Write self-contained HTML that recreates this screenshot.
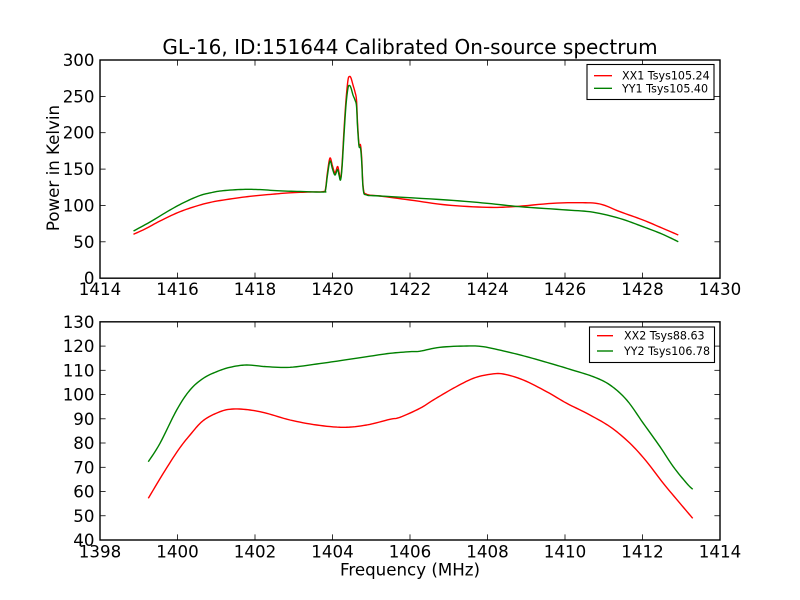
<!DOCTYPE html>
<html>
<head>
<meta charset="utf-8">
<style>
  html, body { margin: 0; padding: 0; background: #ffffff; }
  svg { display: block; }
  text { font-family: "DejaVu Sans", "Liberation Sans", sans-serif; fill: #000; }
</style>
</head>
<body>
<svg width="800" height="600" viewBox="0 0 800 600" xmlns="http://www.w3.org/2000/svg">
  <rect x="0" y="0" width="800" height="600" fill="#ffffff"/>

  <text x="410" y="54" font-size="20" text-anchor="middle">GL-16, ID:151644 Calibrated On-source spectrum</text>

  <!-- ============ TOP AXES ============ -->
  <g>
    <polyline class="smooth" fill="none" stroke="#ff0000" stroke-width="1.4" stroke-linejoin="round"
      points="133.5,234.3 145,229 160,221 178,212.5 195,206.5 212,202 235,198.3 255,195.8 275,194 290,192.8 310,192 323.5,191.6 325.5,189 327.5,172 330,158 332.5,166 335,173 337.5,166.5 339,172 340.5,179 342,165 344,130 346,100 348,80 349.5,76.5 351,78 353,85 355,92 356.5,100 357.5,122 359,144 360.5,145 361.7,158 363.3,188 366.7,194.3 380,196 410,200 447,205 487,207.3 513,206.7 553,203.3 580,202.7 600,204 620,211.7 643,220 662,228 678.3,235"/>
    <polyline class="smooth" fill="none" stroke="#008000" stroke-width="1.4" stroke-linejoin="round"
      points="133.5,231 150,222 170,210 185,202 200,195.5 212,192.5 223,190.7 243,189.4 260,189.6 277,190.7 300,191.5 323.5,192 325.5,190 327.5,175 330,161 332.5,169 335,175 337.5,169.5 339,175 340.5,180 342,168 344,135 346,105 348,88 349.5,85.5 351,88 353,95 355,100 356.5,106 357.5,126 359,146 360.5,148 361.7,162 363.3,190 366.7,195 380,196 447,200 487,203.3 520,206.7 567,210 593,212.2 620,218.5 643,226.7 662,234 678.3,241.7"/>

    <rect x="100" y="60" width="620" height="218.18" fill="none" stroke="#000" stroke-width="1.4"/>

    <g stroke="#000" stroke-width="0.8">
      <line x1="177.5" y1="278.18" x2="177.5" y2="272.6"/><line x1="177.5" y1="60" x2="177.5" y2="65.6"/>
      <line x1="255" y1="278.18" x2="255" y2="272.6"/><line x1="255" y1="60" x2="255" y2="65.6"/>
      <line x1="332.5" y1="278.18" x2="332.5" y2="272.6"/><line x1="332.5" y1="60" x2="332.5" y2="65.6"/>
      <line x1="410" y1="278.18" x2="410" y2="272.6"/><line x1="410" y1="60" x2="410" y2="65.6"/>
      <line x1="487.5" y1="278.18" x2="487.5" y2="272.6"/><line x1="487.5" y1="60" x2="487.5" y2="65.6"/>
      <line x1="565" y1="278.18" x2="565" y2="272.6"/><line x1="565" y1="60" x2="565" y2="65.6"/>
      <line x1="642.5" y1="278.18" x2="642.5" y2="272.6"/><line x1="642.5" y1="60" x2="642.5" y2="65.6"/>
      <line x1="100" y1="241.8" x2="105.6" y2="241.8"/><line x1="720" y1="241.8" x2="714.4" y2="241.8"/>
      <line x1="100" y1="205.45" x2="105.6" y2="205.45"/><line x1="720" y1="205.45" x2="714.4" y2="205.45"/>
      <line x1="100" y1="169.1" x2="105.6" y2="169.1"/><line x1="720" y1="169.1" x2="714.4" y2="169.1"/>
      <line x1="100" y1="132.7" x2="105.6" y2="132.7"/><line x1="720" y1="132.7" x2="714.4" y2="132.7"/>
      <line x1="100" y1="96.4" x2="105.6" y2="96.4"/><line x1="720" y1="96.4" x2="714.4" y2="96.4"/>
    </g>

    <g font-size="16.67" text-anchor="middle">
      <text x="100" y="295">1414</text>
      <text x="177.5" y="295">1416</text>
      <text x="255" y="295">1418</text>
      <text x="332.5" y="295">1420</text>
      <text x="410" y="295">1422</text>
      <text x="487.5" y="295">1424</text>
      <text x="565" y="295">1426</text>
      <text x="642.5" y="295">1428</text>
      <text x="720" y="295">1430</text>
    </g>
    <g font-size="16.67" text-anchor="end">
      <text x="94.5" y="284.2">0</text>
      <text x="94.5" y="247.8">50</text>
      <text x="94.5" y="211.5">100</text>
      <text x="94.5" y="175.1">150</text>
      <text x="94.5" y="138.7">200</text>
      <text x="94.5" y="102.4">250</text>
      <text x="94.5" y="66">300</text>
    </g>

    <text x="0" y="0" font-size="16.67" text-anchor="middle" transform="translate(59,168) rotate(-90)">Power in Kelvin</text>

    <rect x="587" y="64.5" width="127" height="35" fill="#ffffff" stroke="#000" stroke-width="1.1"/>
    <line x1="594" y1="75.7" x2="612" y2="75.7" stroke="#ff0000" stroke-width="1.4"/>
    <line x1="594" y1="88.3" x2="612" y2="88.3" stroke="#008000" stroke-width="1.4"/>
    <text x="622" y="79.7" font-size="11.1">XX1 Tsys105.24</text>
    <text x="622" y="92.3" font-size="11.1">YY1 Tsys105.40</text>
  </g>

  <!-- ============ BOTTOM AXES ============ -->
  <g>
    <polyline class="smooth" fill="none" stroke="#ff0000" stroke-width="1.4" stroke-linejoin="round"
      points="148.3,498.3 163.3,473.3 178.3,450 190,435 203.3,420.5 220,411.7 233.3,409 250,410 266.7,413.3 290,420 316.7,425 343.3,427.3 366.7,425 390,419.3 400,417.3 420,408.3 433.3,400 453.3,388.3 473.3,378.3 490,374.3 503.3,374 523.3,380 546.7,391.7 566.7,403.3 586.7,413.3 610,426.7 630,443.3 646.7,461.7 663.3,483.3 680,503.3 692.7,518.3"/>
    <polyline class="smooth" fill="none" stroke="#008000" stroke-width="1.4" stroke-linejoin="round"
      points="148.3,461.7 160,443.3 176.7,410 190,390 203.3,378.3 216.7,371.7 230,367.3 246.7,365 266.7,366.7 290,367.3 316.7,364 340,360.7 366.7,356.7 390,353.3 410,351.7 420,351.2 440,347.3 466.7,346 483.3,346.7 506.7,351.7 526.7,356.7 550,363.3 570,369.3 593.3,376.7 610,385 626.7,400 643.3,423.3 660,446.7 673.3,466.7 686.7,483.3 692.7,489.3"/>

    <rect x="100" y="321.82" width="620" height="218.18" fill="none" stroke="#000" stroke-width="1.4"/>

    <g stroke="#000" stroke-width="0.8">
      <line x1="177.5" y1="540" x2="177.5" y2="534.4"/><line x1="177.5" y1="321.82" x2="177.5" y2="327.4"/>
      <line x1="255" y1="540" x2="255" y2="534.4"/><line x1="255" y1="321.82" x2="255" y2="327.4"/>
      <line x1="332.5" y1="540" x2="332.5" y2="534.4"/><line x1="332.5" y1="321.82" x2="332.5" y2="327.4"/>
      <line x1="410" y1="540" x2="410" y2="534.4"/><line x1="410" y1="321.82" x2="410" y2="327.4"/>
      <line x1="487.5" y1="540" x2="487.5" y2="534.4"/><line x1="487.5" y1="321.82" x2="487.5" y2="327.4"/>
      <line x1="565" y1="540" x2="565" y2="534.4"/><line x1="565" y1="321.82" x2="565" y2="327.4"/>
      <line x1="642.5" y1="540" x2="642.5" y2="534.4"/><line x1="642.5" y1="321.82" x2="642.5" y2="327.4"/>
      <line x1="100" y1="515.76" x2="105.6" y2="515.76"/><line x1="720" y1="515.76" x2="714.4" y2="515.76"/>
      <line x1="100" y1="491.5" x2="105.6" y2="491.5"/><line x1="720" y1="491.5" x2="714.4" y2="491.5"/>
      <line x1="100" y1="467.3" x2="105.6" y2="467.3"/><line x1="720" y1="467.3" x2="714.4" y2="467.3"/>
      <line x1="100" y1="443" x2="105.6" y2="443"/><line x1="720" y1="443" x2="714.4" y2="443"/>
      <line x1="100" y1="418.8" x2="105.6" y2="418.8"/><line x1="720" y1="418.8" x2="714.4" y2="418.8"/>
      <line x1="100" y1="394.5" x2="105.6" y2="394.5"/><line x1="720" y1="394.5" x2="714.4" y2="394.5"/>
      <line x1="100" y1="370.3" x2="105.6" y2="370.3"/><line x1="720" y1="370.3" x2="714.4" y2="370.3"/>
      <line x1="100" y1="346.1" x2="105.6" y2="346.1"/><line x1="720" y1="346.1" x2="714.4" y2="346.1"/>
    </g>

    <g font-size="16.67" text-anchor="middle">
      <text x="100" y="557.5">1398</text>
      <text x="177.5" y="557.5">1400</text>
      <text x="255" y="557.5">1402</text>
      <text x="332.5" y="557.5">1404</text>
      <text x="410" y="557.5">1406</text>
      <text x="487.5" y="557.5">1408</text>
      <text x="565" y="557.5">1410</text>
      <text x="642.5" y="557.5">1412</text>
      <text x="720" y="557.5">1414</text>
    </g>
    <g font-size="16.67" text-anchor="end">
      <text x="94.5" y="546">40</text>
      <text x="94.5" y="521.8">50</text>
      <text x="94.5" y="497.5">60</text>
      <text x="94.5" y="473.3">70</text>
      <text x="94.5" y="449">80</text>
      <text x="94.5" y="424.8">90</text>
      <text x="94.5" y="400.5">100</text>
      <text x="94.5" y="376.3">110</text>
      <text x="94.5" y="352.1">120</text>
      <text x="94.5" y="327.8">130</text>
    </g>

    <text x="410" y="575.5" font-size="16.67" text-anchor="middle">Frequency (MHz)</text>

    <rect x="589.5" y="327" width="125" height="35.5" fill="#ffffff" stroke="#000" stroke-width="1.1"/>
    <line x1="597" y1="335.7" x2="613" y2="335.7" stroke="#ff0000" stroke-width="1.4"/>
    <line x1="597" y1="351" x2="613" y2="351" stroke="#008000" stroke-width="1.4"/>
    <text x="624" y="339.7" font-size="11.1">XX2 Tsys88.63</text>
    <text x="624" y="355" font-size="11.1">YY2 Tsys106.78</text>
  </g>
</svg>
<script>
(function(){
  var lines = document.querySelectorAll('polyline.smooth');
  for (var k = 0; k < lines.length; k++) {
    var pl = lines[k];
    var raw = pl.getAttribute('points').trim().split(/\s+/).map(function(s){var a=s.split(',');return [parseFloat(a[0]),parseFloat(a[1])];});
    var out = [];
    var n = raw.length;
    for (var i = 0; i < n - 1; i++) {
      var p0 = raw[Math.max(i-1,0)], p1 = raw[i], p2 = raw[i+1], p3 = raw[Math.min(i+2,n-1)];
      var steps = 8;
      for (var s = 0; s < steps; s++) {
        var t = s/steps, t2 = t*t, t3 = t2*t;
        var x = 0.5*((2*p1[0]) + (-p0[0]+p2[0])*t + (2*p0[0]-5*p1[0]+4*p2[0]-p3[0])*t2 + (-p0[0]+3*p1[0]-3*p2[0]+p3[0])*t3);
        var y = 0.5*((2*p1[1]) + (-p0[1]+p2[1])*t + (2*p0[1]-5*p1[1]+4*p2[1]-p3[1])*t2 + (-p0[1]+3*p1[1]-3*p2[1]+p3[1])*t3);
        out.push(x.toFixed(2)+','+y.toFixed(2));
      }
    }
    out.push(raw[n-1][0]+','+raw[n-1][1]);
    pl.setAttribute('points', out.join(' '));
  }
})();
</script>
</body>
</html>
